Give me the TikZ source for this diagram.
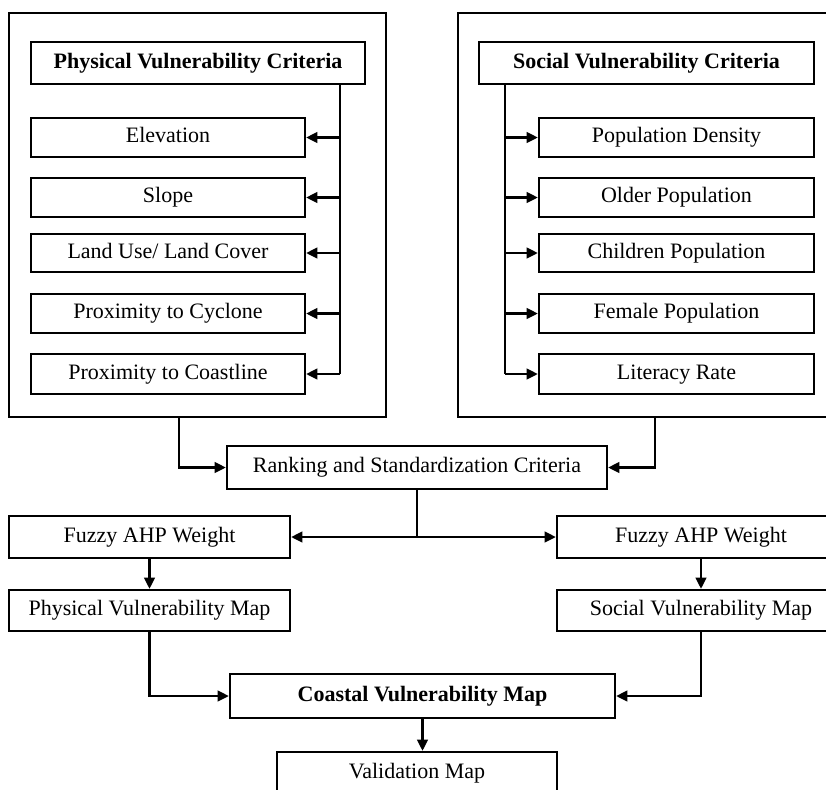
\documentclass[tikz,border=0pt]{standalone}
\usepackage{fontspec}
\setmainfont{Liberation Serif}
\usetikzlibrary{arrows.meta}
\begin{document}
\begin{tikzpicture}[x=0.75pt,y=-0.75pt,
  rect/.style n args={4}{minimum width={(#3-#1)*0.75pt}, minimum height={(#4-#2)*0.75pt}, at={({(#1+#3)/2},{(#2+#4)/2})}},
  box/.style={draw, line width=1.7pt, inner sep=0pt, align=center, text height=11.5pt, text depth=3.5pt, font=\fontsize{16.5}{19}\selectfont},
  bbox/.style={box, font=\fontsize{16.5}{19}\selectfont\bfseries},
  outer/.style={draw, line width=1.8pt, inner sep=0pt},
  conn/.style={line width=1.7pt},
  arr/.style={conn, -{Triangle[length=8.5pt,width=8pt]}}]
\useasboundingbox (0,0) rectangle (826,790);
\clip (0,0) rectangle (826,790);
% outer frames
\node[outer, rect={9}{13}{386}{417}] (lout) {};
\node[outer, rect={458}{13}{845}{417}] (rout) {};
% physical
\node[bbox, rect={31}{42}{365}{84}] (pvc) {Physical Vulnerability Criteria};
\node[box, rect={31}{118}{305}{157}] (elev) {Elevation};
\node[box, rect={31}{178}{305}{217}] (slope) {Slope};
\node[box, rect={31}{234}{305}{272}] (lulc) {Land Use/ Land Cover};
\node[box, rect={31}{294}{305}{333}] (cyc) {Proximity to Cyclone};
\node[box, rect={31}{354}{305}{394}] (coast) {Proximity to Coastline};
% social
\node[bbox, rect={479}{42}{814}{84}] (svc) {Social Vulnerability Criteria};
\node[box, rect={539}{118}{814}{157}] (pop) {Population Density};
\node[box, rect={539}{178}{814}{217}] (old) {Older Population};
\node[box, rect={539}{234}{814}{272}] (child) {Children Population};
\node[box, rect={539}{294}{814}{333}] (fem) {Female Population};
\node[box, rect={539}{354}{814}{394}] (lit) {Literacy Rate};
% lower part
\node[box, rect={227}{446}{607}{489}] (rank) {Ranking and Standardization Criteria};
\node[box, rect={9}{516}{290}{558}] (fuzl) {Fuzzy AHP Weight};
\node[box, rect={557}{516}{845}{558}] (fuzr) {Fuzzy AHP Weight};
\node[box, rect={9}{590}{290}{631}] (pmap) {Physical Vulnerability Map};
\node[box, rect={557}{590}{845}{631}] (smap) {Social Vulnerability Map};
\node[bbox, rect={230}{674}{615}{718}] (cvm) {Coastal Vulnerability Map};
\node[box, rect={277}{752}{557}{794}] (val) {Validation Map};
% trunks
\coordinate (pt) at (340,0);
\coordinate (st) at (505,0);
\draw[conn] (pt |- pvc.south) -- (pt |- coast.east);
\foreach \n in {elev,slope,lulc,cyc,coast} \draw[arr] (pt |- \n.east) -- (\n.east);
\draw[conn] (st |- svc.south) -- (st |- lit.west);
\foreach \n in {pop,old,child,fem,lit} \draw[arr] (st |- \n.west) -- (\n.west);
% to ranking
\coordinate (lc) at (179,0);
\coordinate (rc) at (655,0);
\draw[arr] (lc |- lout.south) |- (rank.west);
\draw[arr] (rc |- rout.south) |- (rank.east);
\draw[arr] (rank.south) |- (fuzl.east);
\draw[arr] (rank.south) |- (fuzr.west);
\draw[arr] (fuzl.south) -- (pmap.north);
\draw[arr] (fuzr.south) -- (smap.north);
\draw[arr] (pmap.south) |- (cvm.west);
\draw[arr] (smap.south) |- (cvm.east);
\draw[arr] (cvm.south) -- (cvm.south |- val.north);
\end{tikzpicture}
\end{document}
